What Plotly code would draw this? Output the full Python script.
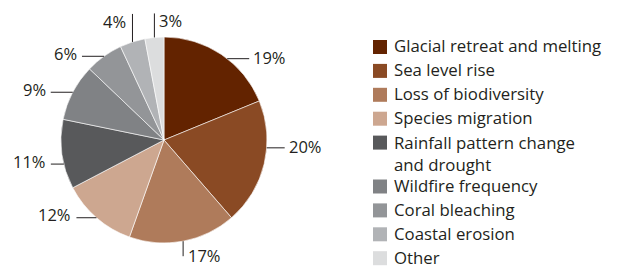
import math
import plotly.graph_objects as go

# ---- data ----
categories = ["Glacial retreat and melting", "Sea level rise", "Loss of biodiversity",
              "Species migration", "Rainfall pattern change<br>and drought", "Wildfire frequency",
              "Coral bleaching", "Coastal erosion", "Other"]
values = [19, 20, 17, 12, 11, 9, 6, 4, 3]
colors = ["#632300", "#8A4A24", "#AF7B5B", "#CDA790", "#58595B", "#808285",
          "#939598", "#B1B3B6", "#DCDDDE"]

# ---- layout constants (pixels) ----
W, H = 617, 266
CX, CY, R = 164, 140, 103
# per-label leader style: (angle nudge deg, direction, length)
label_style = [(4, "right", 22), (-9, "right", 18), (0, "down", 15), (0, "left", 20),
               (-5.5, "left", 13), (0, "left", 22), (0, "left", 22), (0, "up", 28), (0, "up", 24)]
LEG_X, LEG_Y0, LEG_STEP, LEG_LINE = 373, 47, 23.9, 20
FONT = "Open Sans, Noto Sans, sans-serif"
TXT = "#231F20"
LEG_SIZE = 16.8


def px(x):
    return x / W


def py(y):
    return 1 - y / H


fig = go.Figure(go.Pie(
    labels=categories, values=values, sort=False, direction="clockwise", rotation=0,
    marker=dict(colors=colors, line=dict(color="white", width=0.6)),
    textinfo="none", hoverinfo="label+percent", showlegend=False,
    domain=dict(x=[px(CX - R), px(CX + R)], y=[py(CY + R), py(CY - R)]),
))

# ---- percentage labels with leader lines ----
total = sum(values)
cum = 0
font = dict(family=FONT, size=16.5, color=TXT)
for v, (nudge, d, L) in zip(values, label_style):
    mid = (cum + v / 2) / total * 360 + nudge
    cum += v
    th = math.radians(mid)
    x0 = CX + R * math.sin(th)
    y0 = CY - R * math.cos(th)
    if d == "right":
        x1, y1 = x0 + L, y0
        tx, ty, xa = x1 + 2, y1 - 1, "left"
    elif d == "left":
        x1, y1 = x0 - L, y0
        tx, ty, xa = x1 - 3, y1 - 3, "right"
    elif d == "down":
        x1, y1 = x0, y0 + L
        tx, ty, xa = x1 + 3, y1 - 1, "left"
    else:
        x1, y1 = x0, y0 - L
        if v == 4:
            tx, ty, xa = x1 - 4, y1 + 7.5, "right"
        else:
            tx, ty, xa = x1 + 3, y1 + 7.5, "left"
    fig.add_shape(type="line", xref="paper", yref="paper",
                  x0=px(x0), y0=py(y0), x1=px(x1), y1=py(y1),
                  line=dict(color=TXT, width=1))
    fig.add_annotation(xref="paper", yref="paper", x=px(tx), y=py(ty),
                       text=f"{v}%", showarrow=False, xanchor=xa, yanchor="middle", font=font)

# ---- legend (squares + text) ----
y = LEG_Y0
for cat, col in zip(categories, colors):
    fig.add_shape(type="rect", xref="paper", yref="paper",
                  x0=px(LEG_X), x1=px(LEG_X + 14), y0=py(y - 7), y1=py(y + 7),
                  fillcolor=col, line=dict(width=0))
    n = cat.count("<br>") + 1
    if n == 1:
        fig.add_annotation(xref="paper", yref="paper", x=px(LEG_X + 19), y=py(y - 1),
                           text=cat, showarrow=False, xanchor="left", yanchor="middle",
                           font=dict(family=FONT, size=LEG_SIZE, color=TXT))
    else:
        fig.add_annotation(xref="paper", yref="paper", x=px(LEG_X + 19), y=py(y - 13.5),
                           text=cat, showarrow=False, xanchor="left", yanchor="top",
                           align="left", font=dict(family=FONT, size=LEG_SIZE, color=TXT))
    y += LEG_STEP + (n - 1) * LEG_LINE

fig.update_layout(
    width=W, height=H, margin=dict(l=0, r=0, t=0, b=0),
    paper_bgcolor="white", plot_bgcolor="white", showlegend=False,
)
fig.write_html("out.html", config={"displayModeBar": False},
               post_script="document.body.style.margin='0';")
